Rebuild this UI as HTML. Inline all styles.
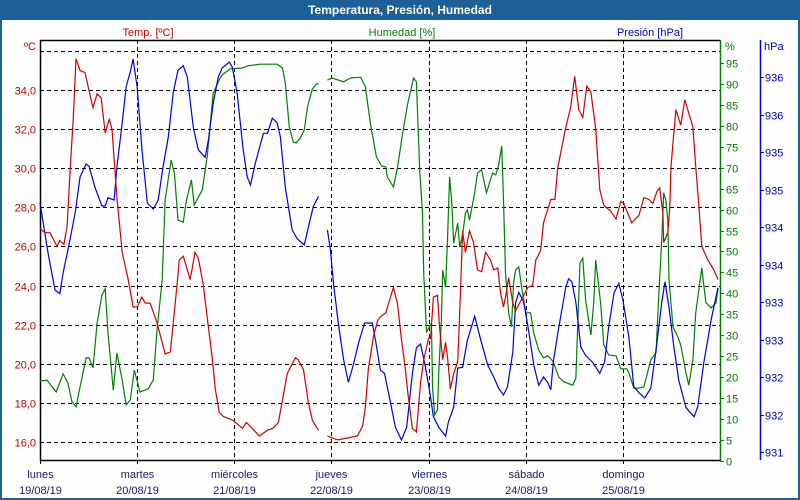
<!DOCTYPE html>
<html><head><meta charset="utf-8"><style>
html,body{margin:0;padding:0;background:#fff;}
#wrap{position:relative;width:800px;height:500px;overflow:hidden;font-family:"Liberation Sans",sans-serif;}
svg text{font-family:"Liberation Sans",sans-serif;font-size:11px;}
</style></head><body>
<div id="wrap">
<svg id="chart" width="800" height="500" viewBox="0 0 800 500">
<rect x="0" y="0" width="800" height="500" fill="#fdfefd"/>
<rect x="0" y="0" width="800" height="20" fill="#1d5f98"/>
<rect x="0" y="20" width="2" height="480" fill="#1d5f98"/>
<rect x="798" y="20" width="2" height="480" fill="#1d5f98"/>
<rect x="0" y="498" width="800" height="2" fill="#1d5f98"/>
<text x="400" y="14" text-anchor="middle" fill="#fff" font-weight="bold" style="font-size:12px">Temperatura, Presión, Humedad</text>
<text x="148" y="36" text-anchor="middle" fill="#c00000">Temp. [ºC]</text>
<text x="402" y="36" text-anchor="middle" fill="#008000">Humedad [%]</text>
<text x="650" y="36" text-anchor="middle" fill="#0000c0">Presión [hPa]</text>
<text x="36" y="50" text-anchor="end" fill="#c00000">ºC</text>
<text x="725" y="50" fill="#008000">%</text>
<text x="764" y="50" fill="#0000c0">hPa</text>
<g id="grid"></g>
<g id="axes"></g>
<g id="series"></g>
</svg>
</div>
<script>
const tempHours=[0,1.2,2.5,4.2,4.9,5.9,6.7,7.4,8.2,8.9,9.9,11.1,13.1,14.1,15.1,16.1,17.1,17.8,19.0,20.3,21.8,23.0,24.0,25.2,26.0,27.2,28.9,30.9,32.2,33.9,34.4,35.4,37.1,38.3,39.1,40.3,42.6,43.3,44.3,45.3,47.7,50.0,51.0,54.2,56.2,57.6,58.9,61.1,63.1,63.8,65.1,66.3,67.3,68.8,70,71.0,73.5,76.0,78.4,79.7,80.4,81.1,82.4,83.4,84.1,85.4,87.3,88.3,89.3,90.1,91.0,92.0,93.0,94.0,94.8,96.0,96.5,97.2,98.2,98.7,99.5,100.2,100.7,101.4,102.2,103.2,103.7,104.4,105.1,106.1,107.1,108.1,109.1,110.1,111.3,112.1,113.1,113.8,114.5,115.0,115.8,116.8,117.5,118.5,120.5,121.7,122.5,123.7,124.4,126.2,127.2,127.9,129.9,131.1,132.1,133.1,134.1,135.1,136.1,137.3,138.3,139.3,141.0,142.3,143.5,144.2,146.2,148.0,149.2,150.4,151.4,152.4,153.1,153.9,154.1,155.1,155.6,155.9,157.1,158.3,159.3,161.3,162.0,162.8,163.5,165.0,166.5,167.5];
const tempValues=[26.9,26.7,26.7,26.0,26.3,26.1,27.0,29.8,32.5,35.6,35.0,34.9,33.1,33.8,33.6,31.8,32.5,32.0,28.5,25.7,24.3,22.9,22.9,23.4,23.1,23.1,22.1,20.5,20.6,24.1,25.3,25.5,24.3,25.7,25.4,24.1,20.2,18.7,17.5,17.3,17.1,16.7,17.0,16.3,16.6,16.7,17.0,19.5,20.3,20.2,19.7,18.0,17.1,16.6,null,16.3,16.1,16.2,16.3,16.8,17.8,19.7,21.4,22.2,22.4,22.6,23.9,23.1,21.2,20.0,18.3,16.7,16.5,19.0,20.2,21.3,21.3,23.4,23.5,21.9,20.2,21.1,20.3,18.7,19.5,20.1,22.6,26.8,25.7,26.8,26.2,24.8,24.7,25.7,25.3,24.8,24.9,23.6,22.9,23.4,24.4,23.1,22.7,23.1,23.9,24.0,25.3,25.8,27.2,28.4,28.4,30.0,32.1,33.1,34.7,33.0,32.6,34.2,33.9,32.0,28.9,28.1,27.8,27.4,28.3,28.2,27.2,27.6,28.5,28.4,28.2,28.8,29.0,27.7,26.2,26.7,28.0,30.1,33.0,32.2,33.5,32.1,30.1,28.0,26.0,25.3,24.8,24.3];
const humHours=[0,1.7,4.0,5.7,6.9,7.9,8.9,9.9,11.4,12.1,13.1,14.1,15.3,16.1,16.8,18.1,19.0,20.3,21.3,22.3,23.3,24.7,26.7,28.0,28.9,30.2,30.9,32.4,33.2,34.1,35.4,36.1,37.4,38.1,40.1,41.3,42.8,44.5,45.0,47.0,50.0,51.2,54.4,58.6,59.9,60.6,61.6,62.6,63.3,64.3,65.3,66.1,67.3,68.3,68.8,70,71.0,72.2,75.0,76.7,79.2,80.4,81.6,83.1,84.4,85.4,85.8,87.3,88.3,89.6,90.8,92.3,93.0,93.8,94.5,94.8,95.5,96.0,96.7,97.0,97.5,98.2,98.5,99.2,99.5,100.2,100.7,101.2,101.7,102.2,102.7,103.2,103.7,104.4,105.1,105.6,106.1,107.4,108.1,109.1,110.3,111.8,112.6,113.3,114.1,114.5,115.0,115.8,116.5,117.0,117.5,118.3,119.2,120.0,121.2,122.0,123.2,124.4,125.4,126.7,128.2,129.4,131.6,132.4,132.9,133.4,134.1,134.8,136.1,136.8,137.3,138.5,139.3,140.5,142.3,143.5,145.0,145.5,146.7,148.0,149.2,150.9,152.2,152.9,153.6,154.1,154.6,155.1,155.4,156.4,157.6,158.3,159.6,160.3,161.3,162.0,163.5,164.5,165.8,167.0,167.5];
const humValues=[19.1,19.3,16.5,20.8,18.6,14.1,12.9,17.7,24.6,24.6,22.2,32.9,39.6,41.1,30.5,16.9,25.8,19.3,13.4,14.6,21.7,16.5,17.2,19.3,31.3,43.2,62.3,71.8,68.7,57.5,57.0,61.8,67.1,61.1,64.7,72.6,87.8,91.4,92.1,93.6,93.8,94.3,94.7,94.7,93.8,90.2,79.7,76.1,75.9,77.1,79.0,84.5,88.8,90.0,90.0,null,90.9,91.4,90.5,91.4,91.6,89.3,80.7,72.6,70.4,70.2,67.8,65.4,69.9,78.3,85.0,91.4,90.5,69.5,59.2,44.9,30.8,31.7,32.9,17.4,11.0,12.2,21.0,34.4,45.6,41.5,53.5,67.8,62.3,52.0,54.4,56.8,51.1,53.9,59.2,59.9,57.5,64.0,68.7,69.5,64.0,68.7,68.3,70.6,75.2,62.3,44.9,35.3,32.0,42.5,45.6,46.3,40.1,35.6,35.3,30.5,26.5,24.6,25.1,23.9,20.0,18.9,18.1,19.8,33.7,47.3,48.4,38.4,30.1,37.7,48.0,37.7,27.7,25.3,25.1,22.0,22.0,21.0,17.4,17.4,17.7,24.1,25.8,40.1,52.7,64.0,62.3,57.5,43.2,32.0,29.6,27.7,21.0,18.1,24.1,35.3,46.1,37.9,36.5,37.7,41.3];
const presHours=[0,0.7,2.0,3.7,4.9,5.7,6.9,8.7,9.9,11.4,12.1,13.6,15.3,16.1,16.8,18.3,19.0,20.3,21.3,22.3,23.0,24.0,25.2,26.5,28.0,29.2,30.4,31.7,32.9,34.1,35.4,36.4,37.9,39.1,40.8,41.6,42.8,44.0,45.0,46.8,47.5,48.7,50.2,51.2,52.0,53.2,55.2,56.2,57.4,58.6,59.4,60.6,62.3,63.6,65.3,66.3,67.5,68.8,70,71.0,71.7,72.5,73.7,75.0,76.2,77.4,78.7,80.2,82.1,82.9,84.1,85.1,86.1,87.8,89.3,90.6,92.0,93.0,94.0,95.0,96.2,97.2,98.5,100.2,100.9,102.2,103.2,104.4,105.6,107.4,108.9,110.6,112.1,113.3,114.5,115.5,116.8,117.5,118.3,119.5,120.7,122.0,123.2,124.4,125.4,126.2,126.9,128.2,129.9,130.6,131.4,132.4,133.6,134.8,136.6,138.3,139.5,140.5,141.8,143.0,144.0,145.5,146.7,148.0,149.4,150.9,152.4,153.6,154.4,155.4,156.6,157.8,159.6,160.6,161.6,162.5,164.0,165.8,167.5];
const presValues=[934.32,934.09,933.65,933.16,933.11,933.39,933.69,934.19,934.67,934.84,934.81,934.53,934.28,934.28,934.39,934.36,934.80,935.39,935.87,936.07,936.24,935.87,935.03,934.32,934.24,934.36,934.80,935.20,935.79,936.09,936.15,936.00,935.32,935.03,934.93,935.16,935.65,935.99,936.12,936.20,936.13,935.79,935.03,934.67,934.56,934.85,935.25,935.25,935.45,935.39,935.20,934.53,933.96,933.84,933.76,934.00,934.27,934.41,null,933.96,933.72,933.25,932.72,932.23,931.93,932.16,932.45,932.72,932.72,932.49,932.09,932.05,931.79,931.33,931.16,931.33,932.05,932.39,932.44,932.20,931.83,931.47,931.33,931.21,931.40,931.60,932.12,932.13,932.49,932.81,932.49,932.16,932.00,931.85,931.76,931.87,932.33,932.99,933.13,933.00,932.63,932.16,931.89,932.00,931.93,931.83,932.23,932.67,933.20,933.31,933.27,932.99,932.40,932.29,932.19,932.05,932.20,932.67,933.12,933.25,933.03,932.53,931.87,931.79,931.72,931.85,932.45,932.99,933.27,932.93,932.40,931.96,931.59,931.53,931.47,931.60,932.19,932.76,933.19];
const dayNames=["lunes","martes","miércoles","jueves","viernes","sábado","domingo"];
const dayDates=["19/08/19","20/08/19","21/08/19","22/08/19","23/08/19","24/08/19","25/08/19"];
const tempTicks=[16,18,20,22,24,26,28,30,32,34,36];
const humTicks=[0,5,10,15,20,25,30,35,40,45,50,55,60,65,70,75,80,85,90,95];
const presTicks=[931,931.5,932,932.5,933,933.5,934,934.5,935,935.5,936];

const NS="http://www.w3.org/2000/svg";
const X0=40,X1=720,Y0=40,Y1=460;
const xOf=h=>X0+h*(X1-X0)/168;
const yTemp=v=>90+(34-v)*19.55;
const yHum=v=>461-v*4.19;
const yPres=v=>452-(v-931)*75;
function mk(tag,attrs,parent){const e=document.createElementNS(NS,tag);for(const k in attrs)e.setAttribute(k,attrs[k]);parent.appendChild(e);return e;}
const grid=document.getElementById('grid'),axes=document.getElementById('axes'),series=document.getElementById('series');

tempTicks.forEach((t,i)=>{
  const y=Math.round(yTemp(t))+0.5;
  const l=mk('line',{x1:X0,x2:X1,y1:y,y2:y,stroke:'#000','stroke-dasharray':'4,3','stroke-width':1},grid);
  
  
  if(t<36){
    const tx=mk('text',{x:36,y:y+4,'text-anchor':'end',fill:'#c00000'},axes);
    tx.textContent=t.toFixed(1).replace('.',',');
    
    
  }
});
dayNames.forEach((d,i)=>{
  const x=Math.round(xOf(i*24))+0.5;
  if(i>0){
    const l=mk('line',{x1:x,x2:x,y1:Y0,y2:Y1,stroke:'#000','stroke-dasharray':'4,3','stroke-width':1},grid);
    
    
  }
  const tk=mk('line',{x1:x,x2:x,y1:Y1,y2:Y1+4,stroke:'#000'},axes);
  
  
  const t1=mk('text',{x:x,y:478,'text-anchor':'middle',fill:'#1a1a66'},axes);
  t1.textContent=d;
  
  
  const t2=mk('text',{x:x,y:494,'text-anchor':'middle',fill:'#1a1a66'},axes);
  t2.textContent=dayDates[i];
  
  
});
let b=mk('line',{x1:X0,x2:X1,y1:Y0+0.5,y2:Y0+0.5,stroke:'#000','stroke-width':1.5},axes);


b=mk('line',{x1:X0,x2:X1,y1:Y1+0.5,y2:Y1+0.5,stroke:'#000','stroke-width':1.5},axes);


b=mk('line',{x1:X0+0.5,x2:X0+0.5,y1:Y0,y2:Y1+1,stroke:'#000','stroke-width':1.5},axes);


b=mk('line',{x1:X1+0.5,x2:X1+0.5,y1:Y0,y2:Y1+1,stroke:'#008000','stroke-width':1.5},axes);


b=mk('line',{x1:760.5,x2:760.5,y1:Y0,y2:Y1,stroke:'#0000e0','stroke-width':1.5},axes);


humTicks.forEach(t=>{
  const y=Math.round(yHum(t))+0.5;
  const tk=mk('line',{x1:X1,x2:X1+4,y1:y,y2:y,stroke:'#008000'},axes);
  
  
  const tx=mk('text',{x:726,y:y+4,fill:'#008000'},axes);
  tx.textContent=String(t);
  
  
});
presTicks.forEach(t=>{
  const y=Math.round(yPres(t))+0.5;
  const tk=mk('line',{x1:760,x2:764,y1:y,y2:y,stroke:'#0000e0'},axes);
  
  
  const tx=mk('text',{x:765,y:y+4,fill:'#0000c0'},axes);
  tx.textContent=Math.round(t).toString();
  
  
});
function pathFor(hours,vals,yf){
  let d='',pen=false;
  for(let i=0;i<hours.length;i++){
    if(vals[i]===null){pen=false;continue;}
    d+=(pen?'L':'M')+xOf(hours[i]).toFixed(1)+','+yf(vals[i]).toFixed(1);
    pen=true;
  }
  return d;
}
let p=mk('path',{d:pathFor(humHours,humValues,yHum),fill:'none',stroke:'#008000','stroke-width':1.2},series);


p=mk('path',{d:pathFor(presHours,presValues,yPres),fill:'none',stroke:'#0000e0','stroke-width':1.2},series);


p=mk('path',{d:pathFor(tempHours,tempValues,yTemp),fill:'none',stroke:'#d00000','stroke-width':1.2},series);


</script>
</body></html>
